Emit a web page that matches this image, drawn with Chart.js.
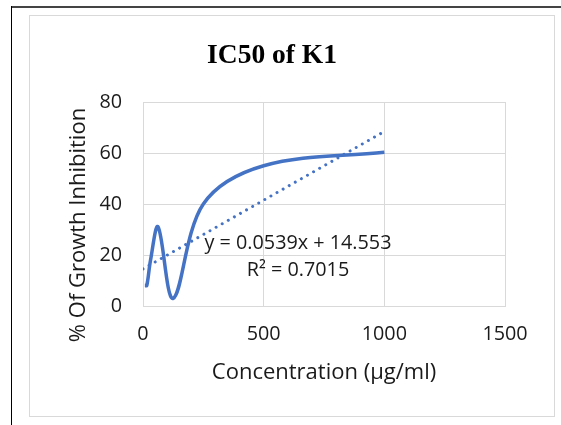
<!DOCTYPE html>
<html><head><meta charset="utf-8">
<script src="https://cdn.jsdelivr.net/npm/chart.js@4/dist/chart.umd.min.js"></script>
<style>
html,body{margin:0;padding:0;background:#fff;}
#wrap{position:relative;width:561px;height:425px;overflow:hidden;}
#c{position:absolute;left:0;top:0;}
.ln{position:absolute;pointer-events:none;}
</style></head>
<body><div id="wrap">
<canvas id="c" width="561" height="425"></canvas>
<div class="ln" style="left:11px;top:6px;width:550px;height:2px;background:#444;"></div>
<div class="ln" style="left:11px;top:6px;width:1px;height:419px;background:#000;"></div>
<div class="ln" style="left:29px;top:15px;width:524px;height:400px;border:1px solid #d9d9d9;"></div>
</div>
<script>
// ---- data ----
const chartTitle = 'IC50 of K1';
const xAxisTitle = 'Concentration (µg/ml)';
const yAxisTitle = '% Of Growth Inhibition';
const concentrations = [7.8, 15.6, 31.25, 62.5, 125, 250, 500, 1000];
const inhibition     = [8, 8, 18, 31, 3, 40, 55, 60.3];
const xTicks = [0, 500, 1000, 1500];
const yTicks = [0, 20, 40, 60, 80];
const trendSlope = 0.0539;
const trendIntercept = 14.553;
const trendRange = [0, 1000];
const equationText = 'y = 0.0539x + 14.553';
const r2Text = 'R² = 0.7015';

const seriesPoints = concentrations.map((x, i) => ({x, y: inhibition[i]}));
const trendPoints = trendRange.map(x => ({x, y: trendSlope * x + trendIntercept}));

const TXT = '#1a1a1a';
const GRID = '#d9d9d9';
const BLUE = '#4472C4';

const textPlugin = {
  id: 'texts',
  afterDraw(chart) {
    const ctx = chart.ctx, a = chart.chartArea;
    ctx.save();
    ctx.fillStyle = '#000';
    ctx.textAlign = 'center';
    ctx.textBaseline = 'alphabetic';
    ctx.font = 'bold 27.5px "Liberation Serif"';
    ctx.fillText(chartTitle, 272, 63);
    ctx.fillStyle = TXT;
    ctx.font = '22px "Open Sans"';
    ctx.fillText(xAxisTitle, (a.left + a.right) / 2, 379);
    ctx.save();
    ctx.translate(85, 225);
    ctx.rotate(-Math.PI / 2);
    ctx.fillText(yAxisTitle, 0, 0);
    ctx.restore();
    ctx.font = '19.8px "Open Sans"';
    ctx.textBaseline = 'middle';
    ctx.fillText(equationText, a.left + 155, a.top + 141);
    ctx.fillText(r2Text, a.left + 155, a.top + 168);
    ctx.restore();
  }
};

new Chart(document.getElementById('c'), {
  type: 'scatter',
  data: {
    datasets: [
      {
        data: seriesPoints,
        showLine: true,
        borderColor: BLUE,
        borderWidth: 3.5,
        pointRadius: 0,
        tension: 0.35,
        fill: false,
        order: 1
      },
      {
        data: trendPoints,
        showLine: true,
        borderColor: BLUE,
        borderWidth: 3,
        borderDash: [0.01, 7],
        borderCapStyle: 'round',
        pointRadius: 0,
        tension: 0,
        fill: false,
        order: 2
      }
    ]
  },
  options: {
    responsive: false,
    animation: false,
    layout: { padding: { left: 0, right: 56, top: 102, bottom: 0 } },
    plugins: { legend: { display: false }, tooltip: { enabled: false }, title: { display: false } },
    scales: {
      x: {
        type: 'linear',
        min: xTicks[0], max: xTicks[xTicks.length - 1],
        afterBuildTicks: s => { s.ticks = xTicks.map(v => ({value: v})); },
        afterFit: s => { s.height = 119; },
        grid: { color: GRID, lineWidth: 1, drawTicks: false },
        border: { color: GRID, width: 1 },
        ticks: { color: TXT, font: { family: 'Open Sans', size: 19.8 }, padding: 16, maxRotation: 0,
                 callback: v => String(v) }
      },
      y: {
        type: 'linear',
        min: yTicks[0], max: yTicks[yTicks.length - 1],
        afterBuildTicks: s => { s.ticks = yTicks.map(v => ({value: v})); },
        afterFit: s => { s.width = 143; },
        grid: { color: GRID, lineWidth: 1, drawTicks: false },
        border: { color: GRID, width: 1 },
        ticks: { color: TXT, font: { family: 'Open Sans', size: 19.8 }, padding: 21,
                 callback: v => String(v) }
      }
    }
  },
  plugins: [textPlugin]
});
</script>
</body></html>
